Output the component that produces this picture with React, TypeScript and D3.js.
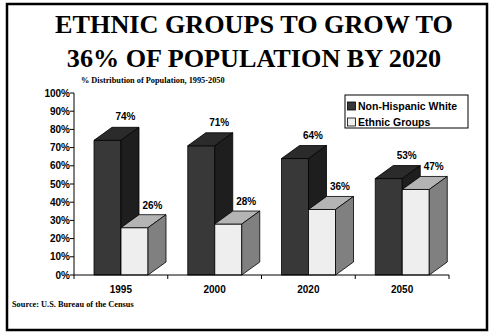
import React from "react";
import * as d3 from "d3";

const categories = ["1995", "2000", "2020", "2050"];
const whiteValues = [74, 71, 64, 53];
const ethnicValues = [26, 28, 36, 47];
const seriesNames = ["Non-Hispanic White", "Ethnic Groups"];
const yTicks = [0, 10, 20, 30, 40, 50, 60, 70, 80, 90, 100];
const titleLines = ["ETHNIC GROUPS TO GROW TO", "36% OF POPULATION BY 2020"];
const subtitle = "% Distribution of Population, 1995-2050";
const source = "Source:  U.S. Bureau of the Census";

const W = 491;
const H = 332;
const axisLeft = 74;
const axisRight = 449;
const yBottom = 275;
const yTop = 93;
const depthX = 18;
const depthY = 13;
const barW = 27;
const barOffset = 20;

const colors = [
  { front: "#383838", top: "#2b2b2b", side: "#1e1e1e" },
  { front: "#eeeeee", top: "#b4b4b4", side: "#808080" },
];

const sans = "Arial, 'Liberation Sans', sans-serif";
const serif = "'Times New Roman', 'Liberation Serif', serif";

function Bar({ x, y0, y1, c }: { x: number; y0: number; y1: number; c: { front: string; top: string; side: string } }) {
  const top = `M${x},${y1} L${x + depthX},${y1 - depthY} L${x + barW + depthX},${y1 - depthY} L${x + barW},${y1} Z`;
  const side = `M${x + barW},${y1} L${x + barW + depthX},${y1 - depthY} L${x + barW + depthX},${y0 - depthY} L${x + barW},${y0} Z`;
  return (
    <g stroke="#000" strokeWidth={0.8} strokeLinejoin="round">
      <rect x={x} y={y1} width={barW} height={y0 - y1} fill={c.front} />
      <path d={top} fill={c.top} />
      <path d={side} fill={c.side} />
    </g>
  );
}

export default function App() {
  const x = d3.scaleBand<string>().domain(categories).range([axisLeft, axisRight]).padding(0);
  const y = d3.scaleLinear().domain([0, 100]).range([yBottom, yTop]);
  const bounds = [...categories.map((c) => x(c) as number), axisRight];

  return (
    <svg width={W} height={H} style={{ position: "absolute", left: 0, top: 0, background: "#fff" }}>
      <rect x={0} y={0} width={W} height={H} fill="#fff" />
      <rect x={7} y={4} width={480} height={326} fill="none" stroke="#000" strokeWidth={2.5} />
      {titleLines.map((t, i) => (
        <text key={i} x={254} y={33 + i * 34} textAnchor="middle" fontFamily={serif} fontWeight="bold" fontSize={26.2}>
          {t}
        </text>
      ))}
      <text x={81} y={83} fontFamily={serif} fontWeight="bold" fontSize={8.3}>
        {subtitle}
      </text>
      {/* y axis */}
      <line x1={axisLeft} x2={axisLeft} y1={yTop} y2={yBottom} stroke="#000" strokeWidth={1} />
      {yTicks.map((t) => (
        <g key={t}>
          <line x1={axisLeft - 4} x2={axisLeft} y1={y(t)} y2={y(t)} stroke="#000" strokeWidth={1} />
          <text x={axisLeft - 4} y={y(t) + 3.5} textAnchor="end" fontFamily={sans} fontWeight="bold" fontSize={10}>
            {t}%
          </text>
        </g>
      ))}
      {/* bars */}
      {categories.map((c, i) => {
        const x0 = x(c) as number;
        const xa = x0 + barOffset;
        const xb = xa + barW;
        return (
          <g key={c}>
            <Bar x={xa} y0={y(0)} y1={y(whiteValues[i])} c={colors[0]} />
            <Bar x={xb} y0={y(0)} y1={y(ethnicValues[i])} c={colors[1]} />
            <text x={xa + depthX + barW / 2} y={y(whiteValues[i]) - depthY - 7} textAnchor="middle" fontFamily={sans} fontWeight="bold" fontSize={10}>
              {whiteValues[i]}%
            </text>
            <text x={xb + depthX + barW / 2} y={y(ethnicValues[i]) - depthY - 6} textAnchor="middle" fontFamily={sans} fontWeight="bold" fontSize={10}>
              {ethnicValues[i]}%
            </text>
            <text x={x0 + x.bandwidth() / 2} y={293} textAnchor="middle" fontFamily={sans} fontWeight="bold" fontSize={10}>
              {c}
            </text>
          </g>
        );
      })}
      {/* x axis */}
      <line x1={axisLeft} x2={axisRight} y1={yBottom} y2={yBottom} stroke="#000" strokeWidth={1} />
      {bounds.map((b, i) => (
        <line key={i} x1={b} x2={b} y1={yBottom} y2={yBottom + 4} stroke="#000" strokeWidth={1} />
      ))}
      {/* legend */}
      <rect x={345} y={95} width={123} height={33} fill="#fff" stroke="#000" strokeWidth={1} />
      {seriesNames.map((n, i) => (
        <g key={n}>
          <rect x={347.5} y={102 + i * 16} width={8} height={8} fill={colors[i].front} stroke="#000" strokeWidth={0.8} />
          <text x={358} y={109.5 + i * 16} fontFamily={sans} fontWeight="bold" fontSize={10.5}>
            {n}
          </text>
        </g>
      ))}
      <text x={12} y={307} fontFamily={serif} fontWeight="bold" fontSize={8.3}>
        {source}
      </text>
    </svg>
  );
}
